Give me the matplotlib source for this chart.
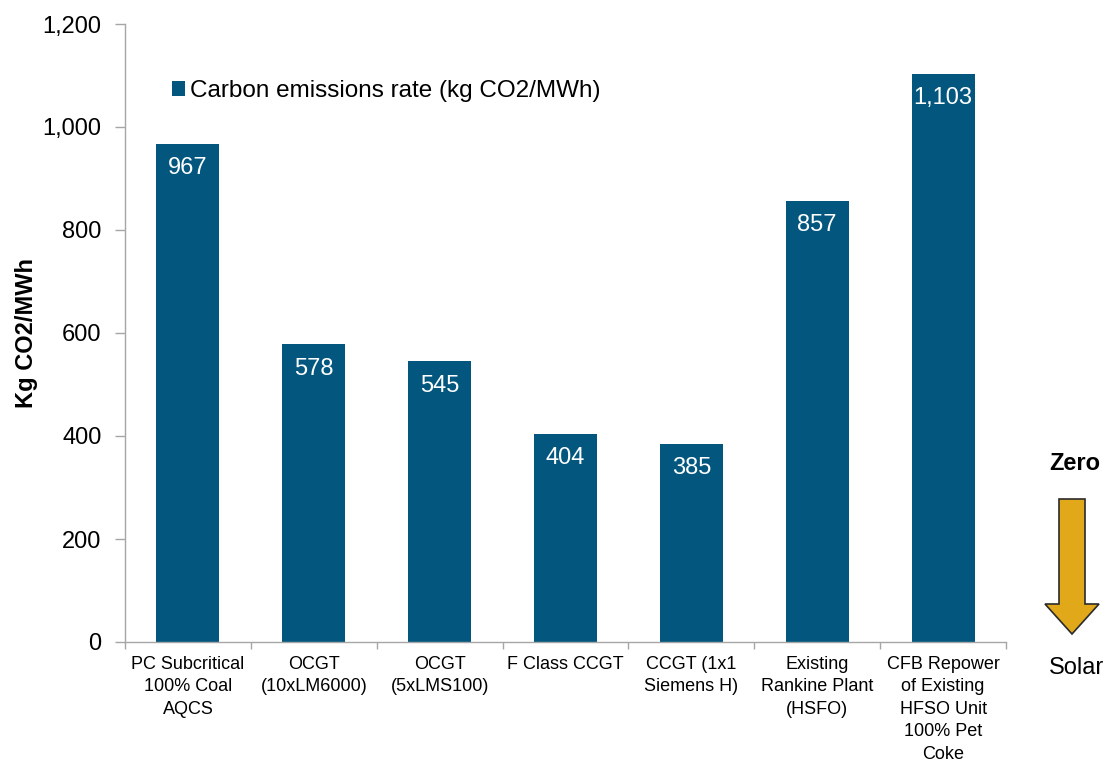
import matplotlib
matplotlib.use("Agg")
import matplotlib.pyplot as plt
from matplotlib.patches import Polygon

plt.rcParams['font.family'] = ['Liberation Sans', 'DejaVu Sans']

categories = [
    "PC Subcritical\n100% Coal\nAQCS",
    "OCGT\n(10xLM6000)",
    "OCGT\n(5xLMS100)",
    "F Class CCGT",
    "CCGT (1x1\nSiemens H)",
    "Existing\nRankine Plant\n(HSFO)",
    "CFB Repower\nof Existing\nHFSO Unit\n100% Pet\nCoke",
]
emissions = [967, 578, 545, 404, 385, 857, 1103]
series_name = "Carbon emissions rate (kg CO2/MWh)"
yticks = [0, 200, 400, 600, 800, 1000, 1200]

bar_color = "#03577f"
axis_color = "#a6a6a6"

W, H = 1114, 770
fig = plt.figure(figsize=(W / 100, H / 100), dpi=100)
ax = fig.add_axes([125 / W, 1 - 642 / H, (1006 - 125) / W, (642 - 24) / H])

x = list(range(len(categories)))
bars = ax.bar(x, emissions, width=0.5, color=bar_color, label=series_name, zorder=2)

for xi, v in zip(x, emissions):
    ax.annotate(f"{v:,}", xy=(xi, v), xytext=(0, -17.5), textcoords="offset points",
                ha="center", va="center", color="white", fontsize=17)

ax.set_xlim(-0.5, len(categories) - 0.5)
ax.set_ylim(0, 1200)
ax.set_yticks(yticks)
ax.set_yticklabels([f"{t:,}" for t in yticks], fontsize=17)

ax.set_xticks(x)
ax.set_xticklabels(categories, fontsize=13, linespacing=1.42)
ax.set_xticks([i - 0.5 for i in range(len(categories) + 1)], minor=True)
ax.tick_params(axis="x", which="major", length=0, pad=10)
ax.tick_params(axis="x", which="minor", length=5, color=axis_color, width=1)
ax.tick_params(axis="y", which="major", length=7, color=axis_color, width=1, pad=10)

for side in ("top", "right"):
    ax.spines[side].set_visible(False)
for side in ("left", "bottom"):
    ax.spines[side].set_color(axis_color)
    ax.spines[side].set_linewidth(1)

ax.set_ylabel("Kg CO2/MWh", fontsize=17, fontweight="bold")
ax.yaxis.set_label_coords((38 - 125) / (1006 - 125), 0.5)

ax.legend(loc="center left", bbox_to_anchor=((172 - 125) / 881, (642 - 91) / 618),
          frameon=False, fontsize=17.5, handlelength=0.55, handleheight=0.55,
          handletextpad=0.2, borderaxespad=0, borderpad=0)

# Direction marker on the right: "Zero" above a downward arrow, "Solar" below
def fpt(px, py):
    return (px / W, 1 - py / H)

arrow_pts = [fpt(1059, 499), fpt(1085, 499), fpt(1085, 604), fpt(1099, 604),
             fpt(1072, 634), fpt(1045, 604), fpt(1059, 604)]
fig.patches.append(Polygon(arrow_pts, closed=True, transform=fig.transFigure,
                           facecolor="#e1a91a", edgecolor="#2b2b2b", linewidth=1.2))
fig.text(1075 / W, 1 - 463 / H, "Zero", ha="center", va="center",
         fontsize=17, fontweight="bold")
fig.text(1077 / W, 1 - 668 / H, "Solar", ha="center", va="center", fontsize=17)

fig.savefig("out.png", dpi=100)
